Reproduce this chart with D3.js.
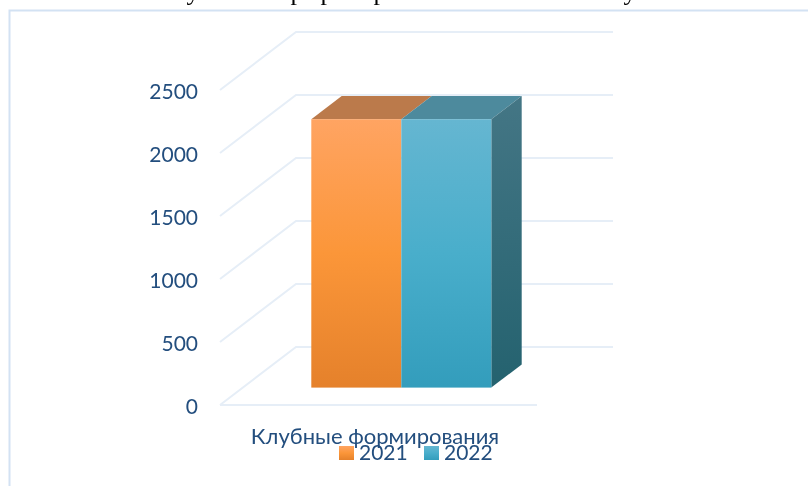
<!DOCTYPE html>
<html>
<head>
<meta charset="utf-8">
<script src="https://cdn.jsdelivr.net/npm/d3@7"></script>
<style>
    html, body { margin: 0; padding: 0; background: #fff; }
    svg { display: block; filter: blur(0.4px); }
    text { font-family: Lato, sans-serif; fill: #234e7e; }
</style>
</head>
<body>
<div id="chart"></div>
<script>
// Chart data
const categories = ['Клубные формирования'];
const seriesNames = ['2021', '2022'];
const seriesValues = [2130, 2130];
const tickValues = [0, 500, 1000, 1500, 2000, 2500];
// Only the descenders of the heading survive in the picture
const headingLetters = ['у', 'р', 'р', 'р', 'у'];

const width = 808;
const height = 486;

const svg = d3.select('#chart')
    .append('svg')
    .attr('width', width)
    .attr('height', height);

// Scales
const y = d3.scaleLinear().domain([0, 2500]).range([405, 90]);
const x0 = d3.scaleBand().domain(categories).range([220, 537]);
const x1 = d3.scaleBand()
    .domain(seriesNames)
    .range([x0(categories[0]) + 68.5, x0(categories[0]) + x0.bandwidth() - 68.5]);
const depthX = d3.scaleLinear().domain([0, 1]).range([0, 76]);
const depthY = d3.scaleLinear().domain([0, 1]).range([0, -58]);

// Gradients
const colors = {
    '2021': { stops: ['#ffa462', '#fb9639', '#e5812b'], top: '#bb7a4b' },
    '2022': { stops: ['#65b6d1', '#49aecb', '#339dbc'], top: '#4d8a9d' }
};
const defs = svg.append('defs');
function addGradient(id, stops) {
    const g = defs.append('linearGradient')
        .attr('id', id)
        .attr('x1', 0).attr('y1', 0).attr('x2', 0).attr('y2', 1);
    stops.forEach((c, i) => {
        g.append('stop').attr('offset', i / (stops.length - 1)).attr('stop-color', c);
    });
}
seriesNames.forEach(s => addGradient('grad' + s, colors[s].stops));
addGradient('gradSide', ['#447685', '#24626f']);

// Outer frame
svg.append('path')
    .attr('d', `M9.5,${height}V10.5H${width}`)
    .attr('fill', 'none')
    .attr('stroke', '#d3e2f3')
    .attr('stroke-width', 2);

// Heading, cut off by the top edge
const headingX = [193, 297, 327, 380, 630];
svg.selectAll('.heading')
    .data(headingLetters)
    .enter()
    .append('text')
    .attr('class', 'heading')
    .attr('x', (d, i) => headingX[i])
    .attr('y', 0)
    .attr('text-anchor', 'middle')
    .style('font-family', '"Liberation Serif", serif')
    .style('font-size', '26px')
    .style('fill', '#000')
    .text(d => d);

// Gridlines: along the side wall, then along the back wall
const gridRight = x0.range()[1];
svg.selectAll('.grid')
    .data(tickValues)
    .enter()
    .append('path')
    .attr('class', 'grid')
    .attr('fill', 'none')
    .attr('stroke', '#e6eef7')
    .attr('stroke-width', 2)
    .attr('d', d => {
        const line = d3.path();
        line.moveTo(x0.range()[0], y(d));
        line.lineTo(x0.range()[0] + depthX(1), y(d) + depthY(1));
        line.lineTo(gridRight + depthX(1), y(d) + depthY(1));
        return line.toString();
    });

// Floor front edge
svg.append('line')
    .attr('x1', x0.range()[0])
    .attr('x2', gridRight)
    .attr('y1', y(0))
    .attr('y2', y(0))
    .attr('stroke', '#e6eef7')
    .attr('stroke-width', 2);

// Y axis
const yAxis = svg.append('g')
    .attr('transform', 'translate(198,2)')
    .call(d3.axisLeft(y).tickValues(tickValues).tickSize(0).tickPadding(0).tickFormat(d3.format('d')));
yAxis.select('.domain').remove();
yAxis.selectAll('text')
    .style('font-family', 'Lato, sans-serif')
    .style('font-size', '21px')
    .style('fill', '#234e7e');

// 3D bars, front plane sits 0.3 into the depth, back plane at 0.7
const near = 0.3;
const far = 0.7;
const bars = svg.selectAll('.bar')
    .data(seriesNames.map((name, i) => ({ name, value: seriesValues[i] })))
    .enter()
    .append('g')
    .attr('class', 'bar');

function face(points) {
    return d3.line()(points) + 'Z';
}

// Top faces go first so the neighbouring front stays above them
bars.append('path')
    .attr('fill', d => colors[d.name].top)
    .attr('d', d => {
        const l = x1(d.name);
        const r = l + x1.bandwidth();
        const t = y(d.value);
        return face([
            [l + depthX(near), t + depthY(near)],
            [r + depthX(near), t + depthY(near)],
            [r + depthX(far), t + depthY(far)],
            [l + depthX(far), t + depthY(far)]
        ]);
    });

// Side face only on the last bar
bars.filter(d => d.name === seriesNames[seriesNames.length - 1])
    .append('path')
    .attr('fill', 'url(#gradSide)')
    .attr('d', d => {
        const r = x1(d.name) + x1.bandwidth();
        return face([
            [r + depthX(near), y(d.value) + depthY(near)],
            [r + depthX(far), y(d.value) + depthY(far)],
            [r + depthX(far), y(0) + depthY(far)],
            [r + depthX(near), y(0) + depthY(near)]
        ]);
    });

// Front faces
bars.append('rect')
    .attr('x', d => x1(d.name) + depthX(near))
    .attr('y', d => y(d.value) + depthY(near))
    .attr('width', x1.bandwidth())
    .attr('height', d => y(0) - y(d.value))
    .attr('fill', d => `url(#grad${d.name})`);

// Category label
svg.append('text')
    .attr('x', 375)
    .attr('y', 444)
    .attr('text-anchor', 'middle')
    .style('font-size', '22px')
    .text(categories[0]);

// Legend
const legend = svg.selectAll('.legend')
    .data(seriesNames)
    .enter()
    .append('g')
    .attr('class', 'legend')
    .attr('transform', (d, i) => `translate(${339 + i * 85},446)`);
legend.append('rect')
    .attr('width', 15)
    .attr('height', 14)
    .attr('fill', d => `url(#grad${d})`);
legend.append('text')
    .attr('x', 20)
    .attr('y', 14)
    .style('font-size', '21px')
    .text(d => d);
</script>
</body>
</html>
